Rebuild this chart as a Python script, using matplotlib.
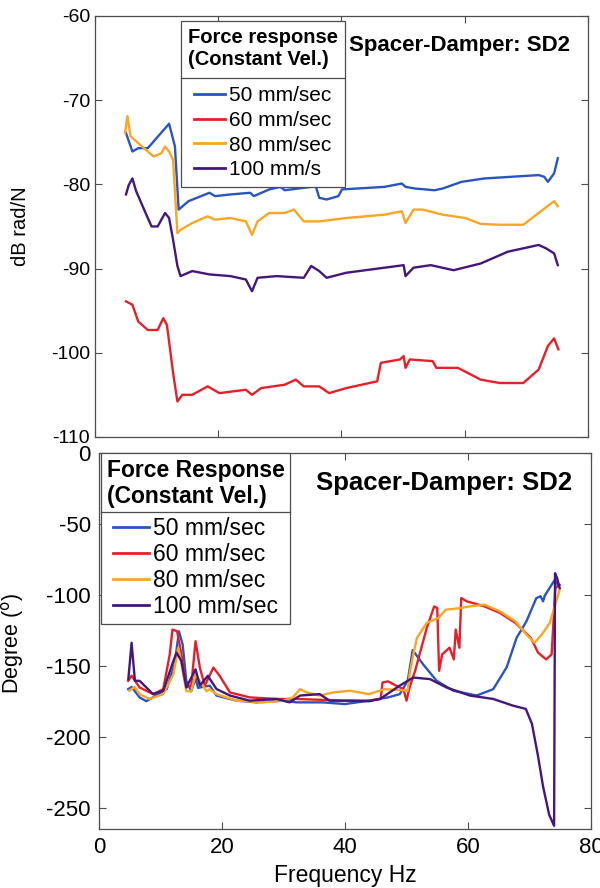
import numpy as np
import matplotlib
matplotlib.use("Agg")
import matplotlib.pyplot as plt
from matplotlib.lines import Line2D

plt.rcParams['font.family'] = ['Liberation Sans', 'DejaVu Sans']
plt.rcParams['axes.unicode_minus'] = False

labels_top = ['50 mm/sec', '60 mm/sec', '80 mm/sec', '100 mm/s']
labels_bot = ['50 mm/sec', '60 mm/sec', '80 mm/sec', '100 mm/sec']
colors = ['#2a55c0', '#e5202a', '#f8a623', '#43187a']

# ---- magnitude (dB rad/N) ----
f50_mag = [5.06, 6.1, 7.05, 8.6, 12.05, 13.0, 13.6, 15.2, 18.6, 19.5, 22.0, 25.2, 25.8, 28.3, 30.1,
           30.8, 35.1, 35.8, 36.4, 37.6, 39.5, 40.1, 47.0, 49.8, 50.4, 52.0, 55.1, 56.4, 59.5,
           63.2, 67.6, 72.0, 72.9, 73.5, 74.5, 75.1]
m50 = [-73.9, -76.1, -75.7, -75.7, -72.8, -75.5, -83.0, -82.0, -81.0, -81.4, -81.2, -81.0, -81.4,
       -80.6, -80.3, -80.7, -80.3, -80.1, -81.6, -81.8, -81.4, -80.6, -80.3, -79.9, -80.3, -80.5,
       -80.7, -80.5, -79.7, -79.3, -79.1, -78.9, -79.1, -79.7, -78.7, -76.9]

f60_mag = [5.06, 6.1, 7.05, 8.6, 10.2, 11.1, 11.7, 12.7, 13.4, 14.2, 15.8, 18.3, 20.2, 24.5, 25.5,
           27.0, 30.8, 32.6, 33.9, 36.4, 38.0, 40.8, 45.8, 46.4, 49.5, 50.1, 50.4, 51.1, 54.8,
           55.4, 58.9, 62.6, 65.7, 69.5, 72.0, 73.5, 74.5, 75.2]
m60 = [-93.9, -94.3, -96.3, -97.3, -97.3, -95.9, -96.7, -102.4, -105.8, -105.0, -105.0, -104.0,
       -104.8, -104.4, -105.0, -104.2, -103.8, -103.2, -104.0, -104.0, -104.8, -104.2, -103.4,
       -101.2, -100.8, -100.4, -101.8, -100.8, -101.0, -101.8, -101.8, -103.2, -103.6, -103.6,
       -102.0, -99.2, -98.3, -99.6]

f80_mag = [4.9, 5.3, 5.8, 7.05, 9.55, 10.8, 11.4, 12.05, 12.7, 13.4, 13.9, 15.8, 18.3, 19.5, 22.0,
           24.5, 25.5, 26.4, 28.3, 30.8, 32.3, 33.9, 36.4, 40.8, 47.0, 49.8, 50.4, 51.7, 53.2,
           56.4, 60.1, 62.6, 65.7, 69.5, 72.0, 74.5, 75.1]
m80 = [-73.9, -71.9, -74.3, -75.1, -76.7, -76.3, -75.5, -76.1, -77.1, -85.8, -85.4, -84.6, -83.8,
       -84.2, -84.0, -84.4, -86.0, -84.4, -83.4, -83.4, -83.0, -84.4, -84.4, -84.0, -83.6, -83.2,
       -84.6, -83.0, -83.0, -83.6, -84.0, -84.7, -84.8, -84.8, -83.4, -82.0, -82.6]

f100_mag = [5.06, 5.5, 6.1, 6.7, 8.0, 9.2, 10.2, 11.4, 12.05, 12.7, 13.4, 13.9, 15.8, 18.6, 22.0,
            24.5, 25.5, 26.4, 29.5, 33.9, 35.1, 36.4, 37.6, 40.8, 47.0, 50.1, 50.4, 51.7, 54.5,
            58.2, 62.6, 67.0, 72.0, 73.2, 74.5, 75.1]
m100 = [-81.2, -80.1, -79.3, -80.8, -83.0, -85.0, -85.0, -83.4, -84.0, -86.6, -89.7, -90.9, -90.3,
        -90.7, -90.9, -91.3, -92.7, -91.1, -90.9, -91.1, -89.7, -90.3, -91.1, -90.5, -89.9, -89.6,
        -90.9, -89.9, -89.6, -90.2, -89.4, -88.0, -87.2, -87.6, -88.2, -89.6]

# ---- phase (degree) ----
f50_ph = [4.74, 5.3, 6.6, 7.7, 11.0, 12.3, 13.0, 13.6, 14.2, 15.0, 15.7, 16.1, 18.0, 19.1, 22.4,
          25.6, 29.9, 32.1, 36.4, 40.0, 43.9, 47.0, 48.9, 50.2, 51.0, 52.7, 54.9, 57.6, 61.4,
          64.1, 66.3, 67.9, 69.5, 71.1, 71.8, 72.2, 72.5, 74.1, 74.6]
p50 = [-166.5, -165.0, -172.3, -175.0, -166.5, -149.0, -125.7, -135.0, -160.6, -168.0, -158.8,
       -165.6, -164.0, -171.0, -174.6, -175.8, -174.6, -175.8, -175.8, -177.0, -174.6, -172.3,
       -170.0, -160.6, -139.0, -149.0, -160.6, -167.6, -171.0, -166.5, -151.0, -130.3, -118.7,
       -102.4, -101.0, -104.6, -100.5, -89.5, -93.0]

f60_ph = [4.74, 5.3, 6.6, 8.8, 10.45, 11.5, 11.95, 12.7, 13.4, 14.2, 15.0, 15.7, 16.4, 17.2, 18.6,
          19.6, 21.3, 24.5, 28.9, 32.1, 40.0, 43.9, 45.8, 46.1, 47.0, 48.3, 49.5, 50.0, 50.5,
          51.4, 53.3, 54.5, 55.0, 55.3, 55.8, 57.0, 57.7, 58.0, 58.6, 58.9, 59.8, 62.7, 65.2,
          67.7, 70.2, 71.4, 72.7, 73.6, 74.2, 74.9]
p60 = [-160.6, -157.0, -165.3, -170.0, -166.5, -142.0, -124.5, -125.7, -142.0, -165.3, -164.0,
       -132.7, -151.3, -164.0, -151.3, -157.0, -168.8, -172.3, -173.4, -173.4, -174.6, -174.6,
       -173.4, -161.8, -161.0, -164.0, -166.5, -174.6, -165.3, -153.6, -123.3, -108.2, -109.3,
       -153.6, -142.0, -137.3, -145.5, -124.5, -137.3, -102.3, -104.6, -108.2, -112.8, -119.8,
       -130.3, -140.8, -145.5, -142.0, -95.3, -93.0]

f80_ph = [4.9, 5.8, 6.6, 8.2, 10.45, 12.1, 12.9, 13.4, 14.2, 15.0, 15.7, 16.4, 17.5, 18.0, 19.1,
          22.4, 26.7, 29.9, 31.5, 32.7, 33.8, 35.9, 38.1, 40.8, 43.9, 46.4, 49.5, 50.2, 50.5,
          51.1, 51.7, 53.3, 55.2, 56.4, 58.9, 60.2, 62.7, 65.2, 67.7, 69.5, 70.8, 72.0, 73.3,
          74.9]
p80 = [-167.6, -165.0, -170.0, -173.4, -170.0, -156.0, -137.3, -149.0, -168.0, -168.0, -156.0,
       -160.6, -168.0, -166.5, -170.0, -174.6, -175.8, -174.6, -172.3, -166.5, -168.8, -171.0,
       -168.8, -167.6, -170.0, -166.5, -167.3, -167.6, -156.0, -142.0, -130.3, -119.8, -116.3,
       -110.5, -109.3, -108.2, -107.0, -111.7, -118.7, -128.0, -133.8, -128.0, -119.8, -96.5]

f100_ph = [4.77, 5.3, 5.84, 6.6, 8.8, 10.45, 12.1, 12.6, 13.4, 14.2, 15.7, 16.4, 17.7, 19.1, 21.3,
           24.5, 28.9, 31.0, 32.7, 35.9, 37.5, 40.8, 43.9, 45.7, 48.9, 51.1, 53.8, 56.5, 60.3,
           64.1, 67.3, 69.4, 70.4, 71.4, 72.2, 73.2, 74.0, 74.15, 74.5, 74.9]
p100 = [-159.4, -133.8, -160.6, -160.6, -170.0, -167.6, -146.6, -140.8, -146.6, -165.3, -152.5,
        -164.0, -157.1, -166.4, -171.0, -174.6, -173.4, -175.8, -171.0, -170.0, -174.6, -174.6,
        -175.0, -173.4, -164.0, -158.3, -159.4, -165.3, -171.0, -173.4, -178.1, -180.4, -191.0,
        -214.0, -235.0, -255.0, -262.8, -84.8, -88.4, -95.3]

mag_f = [f50_mag, f60_mag, f80_mag, f100_mag]
mag_v = [m50, m60, m80, m100]
ph_f = [f50_ph, f60_ph, f80_ph, f100_ph]
ph_v = [p50, p60, p80, p100]

fig = plt.figure(figsize=(6, 8.88), dpi=100)
ax1 = fig.add_axes([0.158, 0.508, 0.822, 0.474])
ax2 = fig.add_axes([0.165, 0.0665, 0.82, 0.4235])

for f, v, c, lab in zip(mag_f, mag_v, colors, labels_top):
    ax1.plot(f, v, color=c, lw=1.7, label=lab)
for f, v, c, lab in zip(ph_f, ph_v, colors, labels_bot):
    ax2.plot(f, v, color=c, lw=1.7, label=lab)

ax1.set_xlim(0, 80)
ax1.set_ylim(-110, -60)
ax1.set_xticks([0, 20, 40, 60, 80])
ax1.set_yticks(np.arange(-110, -59, 10))
ax1.tick_params(direction='in', top=True, right=True, labelbottom=False,
                labelsize=14, length=5, color='0.3')
ax1.set_ylabel('dB rad/N', fontsize=14.5)
ax1.yaxis.set_label_coords(-0.132, 0.5)

ax2.set_xlim(0, 80)
ax2.set_ylim(-265, 0)
ax2.set_xticks([0, 20, 40, 60, 80])
ax2.set_yticks([-250, -200, -150, -100, -50, 0])
ax2.tick_params(direction='in', top=True, right=True, labelsize=16, length=5,
                color='0.3', pad=6)
ax2.set_ylabel('Degree ($^{\\rm o}$)', fontsize=15.5)
ax2.yaxis.set_label_coords(-0.148, 0.495)
ax2.set_xlabel('Frequency Hz', fontsize=16.5)
ax2.xaxis.set_label_coords(0.5, -0.094)

for ax in (ax1, ax2):
    for s in ax.spines.values():
        s.set_color('0.3')
        s.set_linewidth(0.9)

ax1.text(0.74, 0.929, 'Spacer-Damper: SD2', transform=ax1.transAxes, ha='center',
         va='center', fontsize=16, fontweight='bold')
ax2.text(0.702, 0.92, 'Spacer-Damper: SD2', transform=ax2.transAxes, ha='center',
         va='center', fontsize=18.5, fontweight='bold')

leg1 = ax1.legend(title='Force response\n(Constant Vel.)', loc='upper left',
                  bbox_to_anchor=(0.174, 0.988), fontsize=15, fancybox=False,
                  edgecolor='0.3', framealpha=1, handlelength=1.5, handletextpad=0.2,
                  labelspacing=0.28, borderaxespad=0, borderpad=0.35,
                  title_fontproperties={'weight': 'bold', 'size': 14.5})
leg2 = ax2.legend(title='Force Response\n(Constant Vel.)', loc='upper left',
                  bbox_to_anchor=(0.004, 1.0), fontsize=16.5, fancybox=False,
                  edgecolor='0.3', framealpha=1, handlelength=1.55, handletextpad=0.2,
                  labelspacing=0.14, borderaxespad=0, borderpad=0.25,
                  title_fontproperties={'weight': 'bold', 'size': 16.5})
for leg, sep in ((leg1, 12), (leg2, 6)):
    leg.get_frame().set_linewidth(0.9)
    leg._legend_box.sep = sep
    for ln in leg.get_lines():
        ln.set_linewidth(2.0)

# separator line between legend title and entries
fig.canvas.draw()
inv = fig.transFigure.inverted()
for leg in (leg1, leg2):
    fb = leg.get_frame().get_window_extent()
    tb = leg.get_title().get_window_extent()
    eb = leg.get_texts()[0].get_window_extent()
    y = 0.5 * (tb.y0 + eb.y1)
    (x0, yy), (x1, _) = inv.transform([(fb.x0, y), (fb.x1, y)])
    fig.add_artist(Line2D([x0, x1], [yy, yy], color='0.3', lw=0.9))

fig.savefig('out.png', dpi=100)
